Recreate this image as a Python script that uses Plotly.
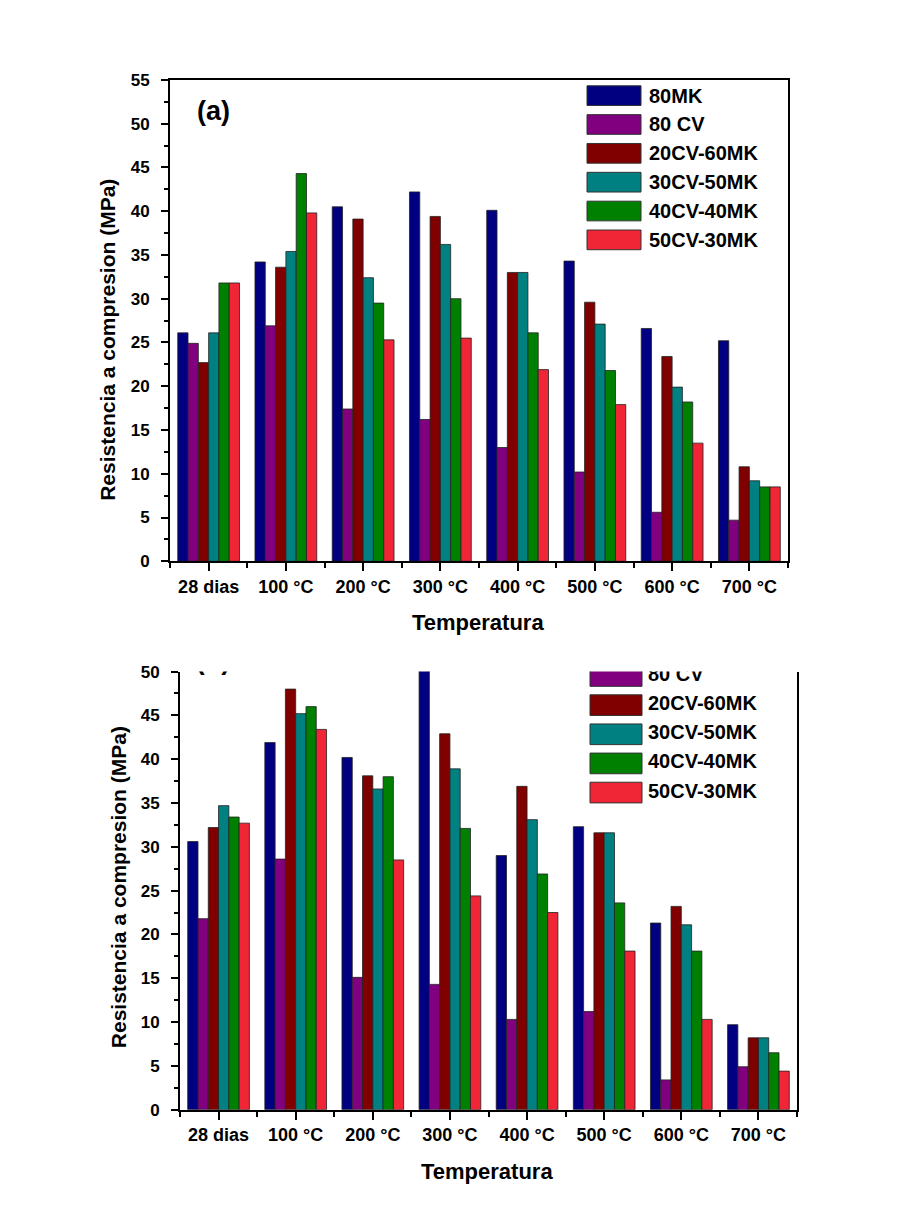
import plotly.graph_objects as go

categories = ["28 dias", "100 °C", "200 °C", "300 °C", "400 °C", "500 °C", "600 °C", "700 °C"]
series_names = ["80MK", "80 CV", "20CV-60MK", "30CV-50MK", "40CV-40MK", "50CV-30MK"]
colors = ["#000080", "#800080", "#800000", "#008080", "#008000", "#F02535"]

# Panel (a)
a_80MK = [26.1, 34.2, 40.5, 42.2, 40.1, 34.3, 26.6, 25.2]
a_80CV = [24.9, 26.9, 17.4, 16.2, 13.0, 10.2, 5.6, 4.7]
a_20CV_60MK = [22.7, 33.6, 39.1, 39.4, 33.0, 29.6, 23.4, 10.8]
a_30CV_50MK = [26.1, 35.4, 32.4, 36.2, 33.0, 27.1, 19.9, 9.2]
a_40CV_40MK = [31.8, 44.3, 29.5, 30.0, 26.1, 21.8, 18.2, 8.5]
a_50CV_30MK = [31.8, 39.8, 25.3, 25.5, 21.9, 17.9, 13.5, 8.5]

# Panel (b)
b_80MK = [30.6, 41.9, 40.2, 52.0, 29.0, 32.3, 21.3, 9.7]
b_80CV = [21.8, 28.6, 15.1, 14.3, 10.3, 11.2, 3.4, 4.9]
b_20CV_60MK = [32.2, 48.0, 38.1, 42.9, 36.9, 31.6, 23.2, 8.2]
b_30CV_50MK = [34.7, 45.2, 36.6, 38.9, 33.1, 31.6, 21.1, 8.2]
b_40CV_40MK = [33.4, 46.0, 38.0, 32.1, 26.9, 23.6, 18.1, 6.5]
b_50CV_30MK = [32.7, 43.4, 28.5, 24.4, 22.5, 18.1, 10.3, 4.4]

panel_a = [a_80MK, a_80CV, a_20CV_60MK, a_30CV_50MK, a_40CV_40MK, a_50CV_30MK]
panel_b = [b_80MK, b_80CV, b_20CV_60MK, b_30CV_50MK, b_40CV_40MK, b_50CV_30MK]

W, H = 897, 1226
FONT = "Liberation Sans, Arial, sans-serif"

def px(x):
    return x / W

def py(y):
    return 1 - y / H

# geometry (pixels)
A_L, A_R, A_T, A_B = 170, 788, 72, 561
B_L, B_R, B_T, B_B = 180, 797, 673, 1118
A_MAX, B_MAX = 55, 50

xpos = list(range(len(categories)))

fig = go.Figure()
for name, col, vals in zip(series_names, colors, panel_a):
    fig.add_trace(go.Bar(x=xpos, y=vals, name=name, marker=dict(color=col, line=dict(color="#222", width=0.8)),
                         xaxis="x", yaxis="y", showlegend=False))
for name, col, vals in zip(series_names, colors, panel_b):
    fig.add_trace(go.Bar(x=xpos, y=vals, name=name, marker=dict(color=col, line=dict(color="#222", width=0.8)),
                         xaxis="x2", yaxis="y2", showlegend=False))

shapes = []
annotations = []

LEG_SIZE = 20

# legend panel (a)
sw_x0, sw_x1, txt_x = 587, 641, 647
row0, pitch, sw_h = 78, 29.3, 20
for i, (name, col) in enumerate(zip(series_names, colors)):
    top = row0 + i * pitch
    shapes.append(dict(type="rect", xref="paper", yref="paper", x0=px(sw_x0), x1=px(sw_x1),
                       y0=py(top + sw_h), y1=py(top), fillcolor=col, line=dict(color="#333", width=1), layer="above"))
    annotations.append(dict(xref="paper", yref="paper", x=px(txt_x), y=py(top + sw_h / 2), text=name,
                            showarrow=False, xanchor="left", yanchor="middle",
                            font=dict(family=FONT, size=LEG_SIZE, color="black", weight="bold")))

# legend panel (b) (clipped at top of the panel)
b_scale = (B_B - B_T) / B_MAX
b_xunit = (B_R - B_L) / len(categories)
def b_y(pyx):
    return (B_B - pyx) / b_scale
def b_x(pxx):
    return -0.5 + (pxx - B_L) / b_xunit

brow0, bpitch = 667, 29.6
leg_x, leg_y, leg_t = [], [], []
for i, (name, col) in enumerate(zip(series_names, colors)):
    if i == 0:
        continue
    top = brow0 + (i - 1) * bpitch
    shapes.append(dict(type="rect", xref="paper", yref="y2", x0=px(590), x1=px(642),
                       y0=b_y(top + 21), y1=b_y(top), fillcolor=col, line=dict(color="#333", width=1), layer="above"))
    leg_x.append(b_x(648))
    leg_y.append(b_y(top + 10.5))
    leg_t.append(name)
fig.add_trace(go.Scatter(x=leg_x, y=leg_y, text=leg_t, mode="text", textposition="middle right",
                         textfont=dict(family=FONT, size=LEG_SIZE, color="black", weight="bold"),
                         xaxis="x2", yaxis="y2", showlegend=False, hoverinfo="skip", cliponaxis=True))
fig.add_trace(go.Scatter(x=[b_x(213)], y=[b_y(664)], text=["(b)"], mode="text", textposition="middle center",
                         textfont=dict(family=FONT, size=27, color="black", weight="bold"),
                         xaxis="x2", yaxis="y2", showlegend=False, hoverinfo="skip", cliponaxis=True))

def ann(x, y, text, size, angle=0):
    return dict(xref="paper", yref="paper", x=px(x), y=py(y), text=text, showarrow=False,
                xanchor="center", yanchor="middle", textangle=angle,
                font=dict(family=FONT, size=size, color="black", weight="bold"))

# panel labels & axis titles
annotations.append(ann(213, 104, "(a)", 27))
annotations.append(ann(478, 623, "Temperatura", 22))
annotations.append(ann(487, 1181, "Temperatura", 22))
annotations.append(ann(108, 336, "Resistencia a compresion (MPa)", 21, -90))
annotations.append(ann(118, 892, "Resistencia a compresion (MPa)", 21, -90))

tickfont_x = dict(family=FONT, size=18, color="black", weight="bold")
tickfont_y = dict(family=FONT, size=17, color="black", weight="bold")

def xaxis_cfg(dom, mirror, anchor):
    return dict(domain=dom, anchor=anchor, range=[-0.5, len(categories) - 0.5], tickmode="array",
                tickvals=xpos, ticktext=categories, ticks="outside", ticklen=8, tickwidth=2, tickcolor="black",
                showline=True, linewidth=2, linecolor="black", mirror=mirror, showgrid=False, zeroline=False,
                tickfont=tickfont_x,
                minor=dict(tickmode="array", tickvals=[i - 0.5 for i in range(len(categories) + 1)],
                           ticks="outside", ticklen=5, tickwidth=2, tickcolor="black", showgrid=False))

def yaxis_cfg(dom, rmax, anchor):
    return dict(domain=dom, anchor=anchor, range=[0, rmax], tickmode="linear", tick0=0, dtick=5,
                ticks="outside", ticklen=7, tickwidth=2, tickcolor="black", ticklabelstandoff=8,
                showline=True, linewidth=2, linecolor="black", mirror=True, showgrid=False, zeroline=False,
                tickfont=tickfont_y,
                minor=dict(dtick=2.5, ticks="outside", ticklen=4, tickwidth=2, tickcolor="black", showgrid=False))

fig.update_layout(
    width=W, height=H, autosize=False,
    margin=dict(l=0, r=0, t=0, b=0),
    paper_bgcolor="white", plot_bgcolor="white",
    barmode="group", bargap=0.2, bargroupgap=0,
    xaxis=xaxis_cfg([px(A_L), px(A_R)], True, "y"),
    yaxis=yaxis_cfg([py(A_B), py(A_T)], A_MAX, "x"),
    xaxis2=xaxis_cfg([px(B_L), px(B_R)], False, "y2"),
    yaxis2=yaxis_cfg([py(B_B), py(B_T)], B_MAX, "x2"),
    shapes=shapes,
    annotations=annotations,
    showlegend=False,
)

fig.write_html("out.html")
